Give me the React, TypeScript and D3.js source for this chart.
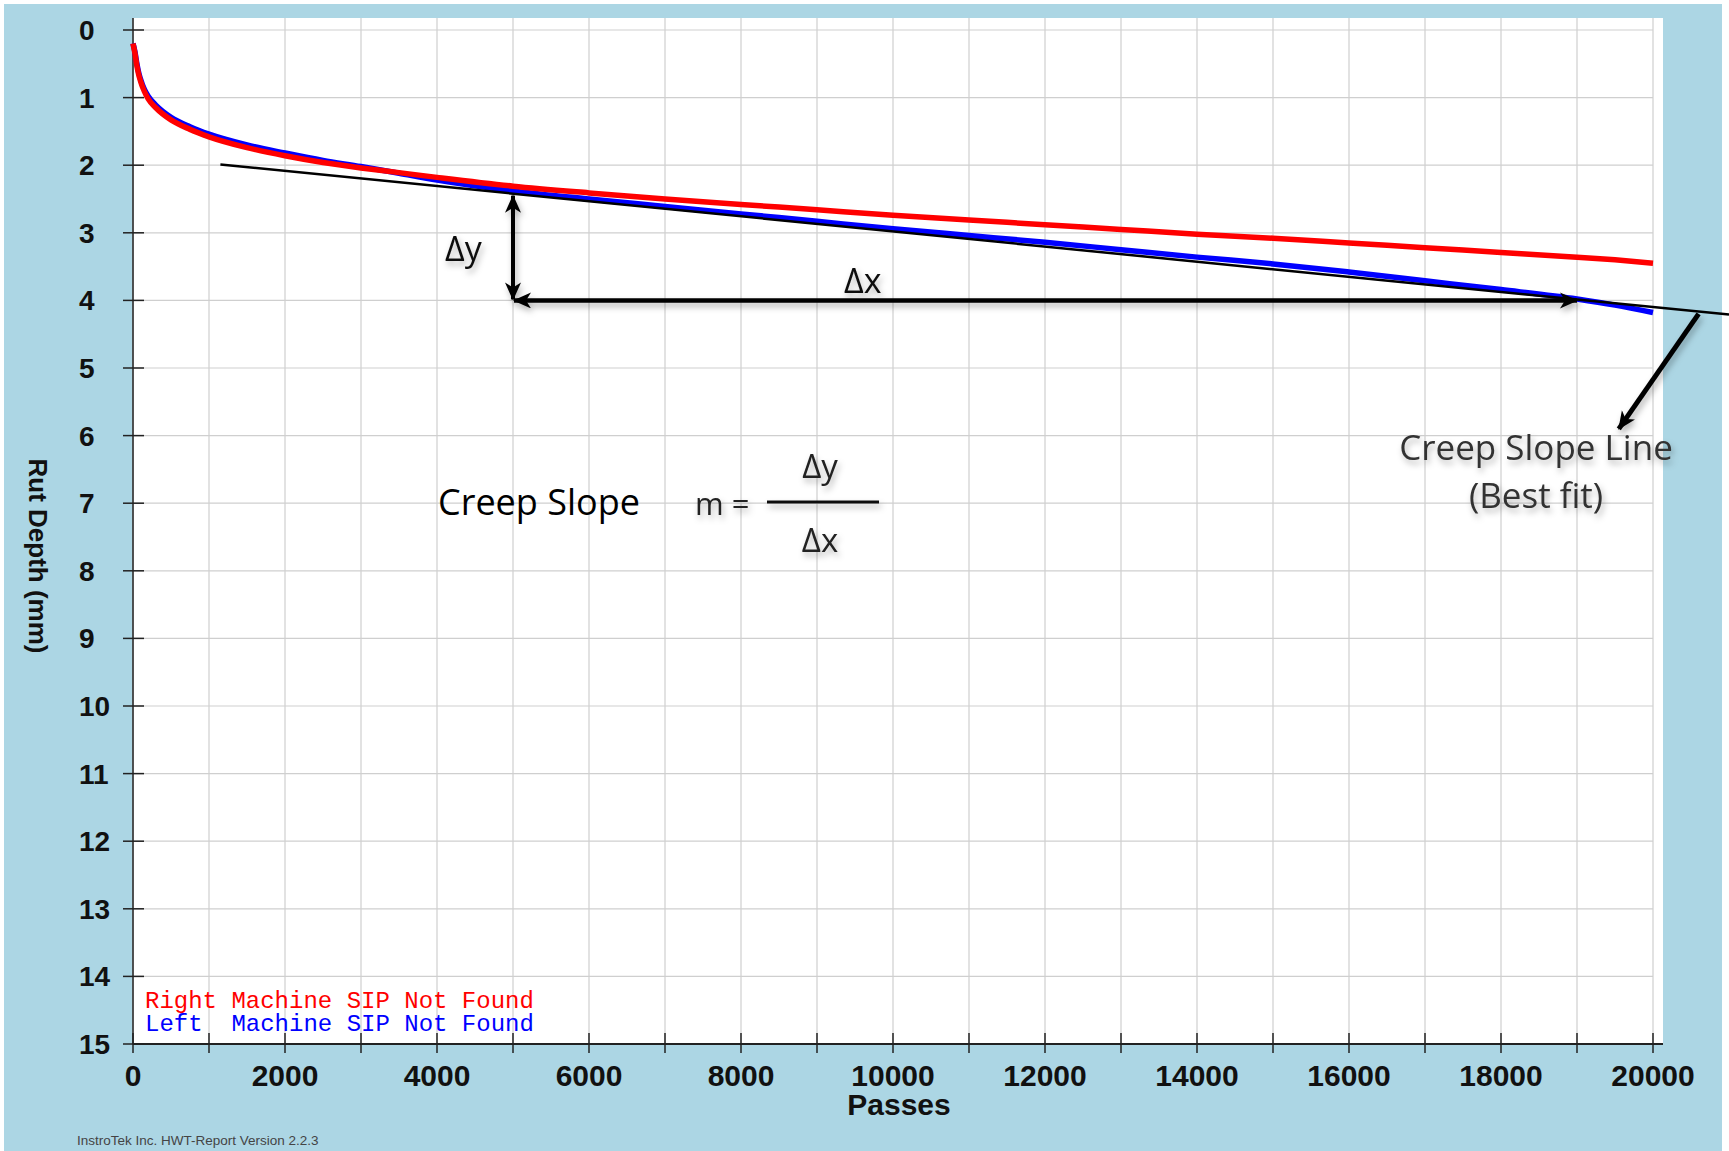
import React from 'react';
import * as d3 from 'd3';

const width = 1729;
const height = 1151;

const passes = [0, 25, 50, 75, 100, 150, 200, 300, 500, 750, 1000, 1500, 2000, 2500, 3000, 3500, 4000, 5000, 6000, 7000, 8000, 9000, 10000, 11000, 12000, 13000, 14000, 15000, 16000, 17000, 18000, 19000, 19500, 20000];
const rightRut = [0.2, 0.34, 0.52, 0.66, 0.76, 0.91, 1.02, 1.15, 1.33, 1.47, 1.58, 1.74, 1.86, 1.96, 2.04, 2.11, 2.18, 2.31, 2.41, 2.5, 2.58, 2.66, 2.74, 2.81, 2.88, 2.95, 3.02, 3.08, 3.15, 3.22, 3.29, 3.36, 3.4, 3.45];
const leftRut = [0.2, 0.32, 0.49, 0.63, 0.73, 0.88, 0.98, 1.11, 1.29, 1.43, 1.54, 1.7, 1.82, 1.93, 2.02, 2.12, 2.22, 2.38, 2.5, 2.61, 2.72, 2.83, 2.94, 3.04, 3.14, 3.25, 3.36, 3.46, 3.58, 3.71, 3.84, 3.98, 4.07, 4.18];

// best fit (creep slope) line end points
const fitPasses = [1150, 21000];
const fitRut = [1.99, 4.21];

// delta triangle
const dyPasses = 5000;
const dxEndPasses = 19000;
const dyBottom = 4.0;

// pointer from the best fit line to its label
const pointerPasses = [20600, 19550];
const pointerRut = [4.2, 5.9];

const yTicks = d3.range(0, 16);
const xMinor = d3.range(0, 20001, 1000);
const xLabels = d3.range(0, 20001, 2000);

const x = d3.scaleLinear().domain([0, 20000]).range([133, 1653]);
const y = d3.scaleLinear().domain([0, 15]).range([30, 1044]);

const fitAt = (p: number) => fitRut[0] + ((fitRut[1] - fitRut[0]) * (p - fitPasses[0])) / (fitPasses[1] - fitPasses[0]);

const line = d3
  .line<number>()
  .x((_, i) => x(passes[i]))
  .y(d => y(d))
  .curve(d3.curveMonotoneX);

const arial = '"Liberation Sans", Arial, sans-serif';
const calibri = '"Open Sans", sans-serif';
const mono = '"Liberation Mono", "Courier New", monospace';

const App = () => {
  const top = 18;
  const plotRight = 1663;
  const shadow = 'url(#soft)';

  return (
    <svg width={width} height={height} style={{ position: 'absolute', left: 0, top: 0 }}>
      <defs>
        <filter id="soft" x="-20%" y="-20%" width="140%" height="160%">
          <feDropShadow dx="2" dy="4" stdDeviation="3" floodColor="#000" floodOpacity="0.3" />
        </filter>
        <marker id="head" markerUnits="userSpaceOnUse" markerWidth="20" markerHeight="18" refX="17" refY="8" orient="auto-start-reverse">
          <path d="M0,0 L18,8 L0,16 L5,8 Z" fill="#000" />
        </marker>
      </defs>

      <rect width={width} height={height} fill="#fff" />
      <rect x={4} y={4} width={1718} height={height} fill="#acd6e4" />
      <rect x={133} y={top} width={plotRight - 133} height={1044 - top} fill="#fff" />

      {/* grid */}
      {xMinor.map(t => (
        <line key={'gx' + t} x1={x(t)} x2={x(t)} y1={top} y2={1044} stroke="#cfcfcf" strokeWidth={1.2} />
      ))}
      {yTicks.map(t => (
        <line key={'gy' + t} x1={133} x2={x(20000)} y1={y(t)} y2={y(t)} stroke="#cfcfcf" strokeWidth={1.2} />
      ))}

      {/* axes */}
      <line x1={133} x2={133} y1={top} y2={1044} stroke="#222" strokeWidth={1.5} />
      <line x1={133} x2={plotRight} y1={1044} y2={1044} stroke="#222" strokeWidth={2} />
      {yTicks.map(t => (
        <line key={'ty' + t} x1={123} x2={144} y1={y(t)} y2={y(t)} stroke="#222" strokeWidth={1.5} />
      ))}
      {xMinor.map(t => (
        <line key={'tx' + t} x1={x(t)} x2={x(t)} y1={1033} y2={1053} stroke="#222" strokeWidth={1.5} />
      ))}
      {yTicks.map(t => (
        <text key={'ly' + t} x={79} y={y(t)} dy="0.36em" fontFamily={arial} fontWeight="bold" fontSize={28} fill="#111">
          {t}
        </text>
      ))}
      {xLabels.map(t => (
        <text key={'lx' + t} x={x(t)} y={1086} textAnchor="middle" fontFamily={arial} fontWeight="bold" fontSize={30} fill="#111">
          {t}
        </text>
      ))}
      <text x={899} y={1115} textAnchor="middle" fontFamily={arial} fontWeight="bold" fontSize={30} fill="#111">
        Passes
      </text>
      <text transform="translate(29,556) rotate(90)" textAnchor="middle" fontFamily={arial} fontWeight="bold" fontSize={26} fill="#111">
        Rut Depth (mm)
      </text>

      {/* data */}
      <path d={line(leftRut) || ''} fill="none" stroke="#0000ff" strokeWidth={5.5} />
      <path d={line(rightRut) || ''} fill="none" stroke="#ff0000" strokeWidth={5.5} />

      <text x={145} y={1008} fontFamily={mono} fontSize={24} fill="#ff0000" style={{ whiteSpace: 'pre' }}>
        Right Machine SIP Not Found
      </text>
      <text x={145} y={1031} fontFamily={mono} fontSize={24} fill="#0000ff" style={{ whiteSpace: 'pre' }}>
        {'Left  Machine SIP Not Found'}
      </text>

      {/* creep slope annotation */}
      <line
        x1={x(fitPasses[0])}
        y1={y(fitRut[0])}
        x2={x(fitPasses[1])}
        y2={y(fitRut[1])}
        stroke="#000"
        strokeWidth={2.5}
      />
      <g filter={shadow}>
        <line
          x1={x(dyPasses)}
          x2={x(dyPasses)}
          y1={y(fitAt(dyPasses)) + 2}
          y2={y(dyBottom) - 1}
          stroke="#000"
          strokeWidth={4}
          markerStart="url(#head)"
          markerEnd="url(#head)"
        />
        <line
          x1={x(dyPasses) + 1}
          x2={x(dxEndPasses)}
          y1={y(dyBottom)}
          y2={y(dyBottom)}
          stroke="#000"
          strokeWidth={4.5}
          markerStart="url(#head)"
          markerEnd="url(#head)"
        />
        <line
          x1={x(pointerPasses[0])}
          y1={y(pointerRut[0])}
          x2={x(pointerPasses[1])}
          y2={y(pointerRut[1])}
          stroke="#000"
          strokeWidth={5}
          markerEnd="url(#head)"
        />
      </g>

      <g fontFamily={calibri} fill="#111">
        <text x={445} y={261} fontSize={34} filter={shadow}>Δy</text>
        <text x={844} y={293} fontSize={34} filter={shadow}>Δx</text>
        <text x={438} y={515} fontSize={36} fill="#000">Creep Slope</text>
        <g filter={shadow} fill="#222">
          <text x={695} y={515} fontSize={31}>m =</text>
          <line x1={767} x2={879} y1={502} y2={502} stroke="#111" strokeWidth={3} />
          <text x={820} y={478} fontSize={33} textAnchor="middle">Δy</text>
          <text x={820} y={552} fontSize={33} textAnchor="middle">Δx</text>
          <text x={1536} y={460} fontSize={35} textAnchor="middle" fill="#333">Creep Slope Line</text>
          <text x={1536} y={508} fontSize={35} textAnchor="middle" fill="#333">(Best fit)</text>
        </g>
      </g>

      <text x={77} y={1145} fontFamily={arial} fontSize={13.5} fill="#444">
        InstroTek Inc. HWT-Report Version 2.2.3
      </text>
    </svg>
  );
};

export default App;
